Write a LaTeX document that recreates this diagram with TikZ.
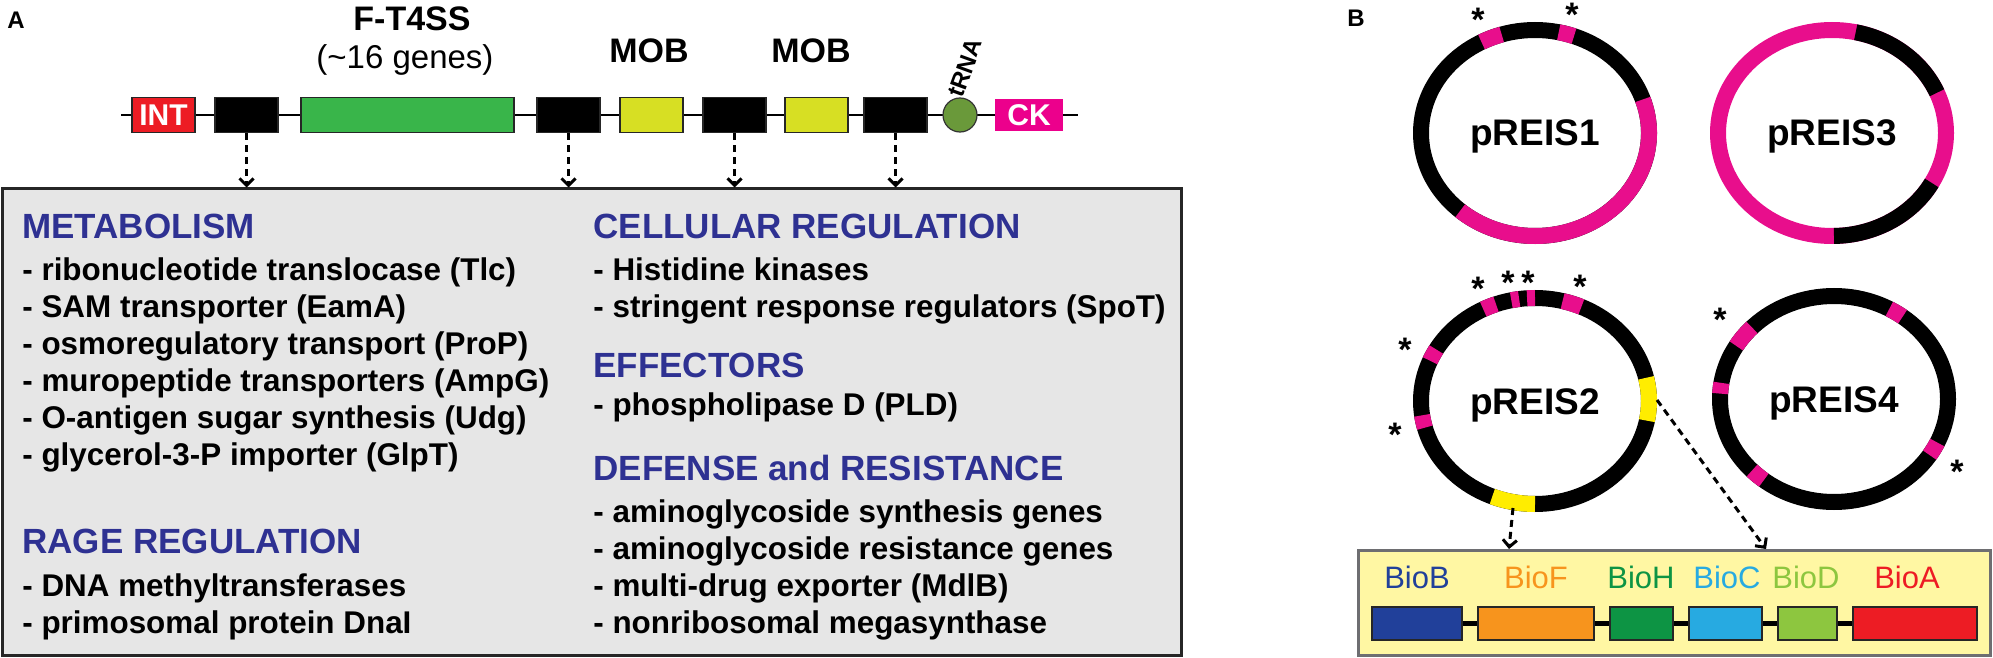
\documentclass[tikz,border=0pt]{standalone}
\usepackage{fontspec}
\setmainfont{Liberation Sans}
\usetikzlibrary{arrows.meta}

\definecolor{headblue}{RGB}{46,49,146}
\definecolor{intred}{RGB}{237,28,36}
\definecolor{tssgreen}{RGB}{57,181,74}
\definecolor{mobyellow}{RGB}{215,223,35}
\definecolor{trnagreen}{RGB}{106,153,58}
\definecolor{ckpink}{RGB}{236,0,140}
\definecolor{boxgray}{RGB}{230,230,230}
\definecolor{ringpink}{RGB}{232,14,140}
\definecolor{ringyellow}{RGB}{255,237,0}
\definecolor{biofill}{RGB}{255,247,163}
\definecolor{bioframe}{RGB}{110,110,113}
\definecolor{colBioB}{RGB}{33,64,154}
\definecolor{colBioF}{RGB}{247,148,29}
\definecolor{colBioH}{RGB}{13,148,68}
\definecolor{colBioC}{RGB}{39,170,225}
\definecolor{colBioD}{RGB}{141,198,63}
\definecolor{colBioA}{RGB}{237,28,36}

% one coloured stretch of a plasmid ring
\newcommand{\ringarc}[4]{\draw[ring,#2] (#1) ++(#3:114 and 103) arc[start angle=#3, end angle=#4, x radius=114, y radius=103];}

\begin{document}
\begin{tikzpicture}[x=0.5pt, y=-0.5pt,
  genebox/.style={draw=black!85, line width=0.6pt, minimum width=31.5pt, minimum height=17.5pt, inner sep=0pt, text=white, font=\bfseries\fontsize{15}{15}\selectfont},
  toplabel/.style={anchor=base, inner sep=0pt, font=\bfseries\fontsize{17}{17}\selectfont},
  funcbox/.style={draw=black!85, line width=1.5pt, fill=boxgray, minimum width=589.5pt, minimum height=233pt},
  catlabel/.style={anchor=base west, inner sep=0pt, text=headblue, font=\bfseries\fontsize{17.5}{17.5}\selectfont},
  genelist/.style={anchor=base west, inner sep=0pt, font=\bfseries\fontsize{15.7}{15.7}\selectfont},
  linkarrow/.style={line width=1.5pt, dash pattern=on 3.5pt off 2.5pt, -{Straight Barb[length=3.5pt,width=7pt]}},
  ring/.style={line width=8pt},
  plasmidlabel/.style={anchor=base, inner sep=0pt, font=\bfseries\fontsize{18.5}{18.5}\selectfont},
  starlbl/.style={inner sep=0pt, yshift=-3.5pt, font=\bfseries\fontsize{17}{17}\selectfont},
  biobox/.style={draw=bioframe, line width=1.5pt, fill=biofill, minimum width=316pt, minimum height=52.5pt},
  biogene/.style={draw=black!85, line width=0.8pt, minimum height=16.5pt, inner sep=0pt},
  biolabel/.style={anchor=base, inner sep=0pt, font=\fontsize{15.5}{15.5}\selectfont},
  biolink/.style={line width=2.5pt}
]
\useasboundingbox (0,0) rectangle (1993,658);

% Panel letters
\node[anchor=base west, inner sep=0pt, font=\bfseries\fontsize{12}{12}\selectfont] (panelA) at (7,29) {A};
\node[anchor=base west, inner sep=0pt, font=\bfseries\fontsize{12}{12}\selectfont] (panelB) at (1347,27) {B};

% Island backbone
\coordinate (bbstart) at (121,115);
\coordinate (bbend) at (1078,115);
\draw[line width=1pt] (bbstart) -- (bbend);

% Genes of the island
\node[genebox, fill=intred] (int) at (163.5,115) {INT};
\node[genebox, fill=black] (hyp1) at (246.5,115) {};
\node[genebox, fill=tssgreen, minimum width=106.5pt] (ft4ss) at (407.5,115) {};
\node[genebox, fill=black] (hyp2) at (568.5,115) {};
\node[genebox, fill=mobyellow] (mob1) at (651.5,115) {};
\node[genebox, fill=black] (hyp3) at (734.5,115) {};
\node[genebox, fill=mobyellow] (mob2) at (816.5,115) {};
\node[genebox, fill=black] (hyp4) at (895.5,115) {};
\node[circle, draw=black!80, line width=0.6pt, fill=trnagreen, minimum size=17pt, inner sep=0pt] (trna) at (960,115) {};
\node[genebox, draw=none, fill=ckpink, minimum width=34pt, minimum height=16pt] (ck) at (1029,115) {CK};

% Labels above the genes
\node[toplabel] (ft4sslab) at (412,31) {F-T4SS};
\node[anchor=base, inner sep=0pt, font=\fontsize{16.5}{16.5}\selectfont] (ft4sscount) at (405,69) {(\textasciitilde16 genes)};
\node[toplabel] (mob1lab) at (649,63) {MOB};
\node[toplabel] (mob2lab) at (811,63) {MOB};
\node[inner sep=0pt, rotate=70, font=\bfseries\fontsize{12}{12}\selectfont] (trnalab) at (965,68) {tRNA};

% Box of gene functions
\node[funcbox] (funcbox) at (591.5,422) {};
\draw[linkarrow] (hyp1.south) -- (hyp1.south |- funcbox.north);
\draw[linkarrow] (hyp2.south) -- (hyp2.south |- funcbox.north);
\draw[linkarrow] (hyp3.south) -- (hyp3.south |- funcbox.north);
\draw[linkarrow] (hyp4.south) -- (hyp4.south |- funcbox.north);

% Left column
\node[catlabel] (metab) at (22,238) {METABOLISM};
\node[genelist] (metab1) at (22,280) {- ribonucleotide translocase (Tlc)};
\node[genelist] (metab2) at (22,317) {- SAM transporter (EamA)};
\node[genelist] (metab3) at (22,354) {- osmoregulatory transport (ProP)};
\node[genelist] (metab4) at (22,391) {- muropeptide transporters (AmpG)};
\node[genelist] (metab5) at (22,428) {- O-antigen sugar synthesis (Udg)};
\node[genelist] (metab6) at (22,465) {- glycerol-3-P importer (GlpT)};
\node[catlabel] (rage) at (22,553) {RAGE REGULATION};
\node[genelist] (rage1) at (22,596) {- DNA methyltransferases};
\node[genelist] (rage2) at (22,633) {- primosomal protein DnaI};

% Right column
\node[catlabel] (cellreg) at (593,238) {CELLULAR REGULATION};
\node[genelist] (cellreg1) at (593,280) {- Histidine kinases};
\node[genelist] (cellreg2) at (593,317) {- stringent response regulators (SpoT)};
\node[catlabel] (effect) at (593,377) {EFFECTORS};
\node[genelist] (effect1) at (593,415) {- phospholipase D (PLD)};
\node[catlabel] (defense) at (593,480) {DEFENSE and RESISTANCE};
\node[genelist] (defense1) at (593,522) {- aminoglycoside synthesis genes};
\node[genelist] (defense2) at (593,559) {- aminoglycoside resistance genes};
\node[genelist] (defense3) at (593,596) {- multi-drug exporter (MdlB)};
\node[genelist] (defense4) at (593,633) {- nonribosomal megasynthase};

% Plasmid centres
\coordinate (p1) at (1535,133);
\coordinate (p2) at (1535,401);
\coordinate (p3) at (1832,133);
\coordinate (p4) at (1834,399);

% pREIS1
\draw[ring] (p1) ellipse [x radius=114, y radius=103];
\ringarc{p1}{ringpink}{242}{253}
\ringarc{p1}{ringpink}{282}{290}
\ringarc{p1}{ringpink}{-19}{131}
\node[plasmidlabel] (p1lab) at (1535,146) {pREIS1};
\node[starlbl] (p1star1) at (1478,13) {*};
\node[starlbl] (p1star2) at (1572,8) {*};

% pREIS3
\draw[ring, ringpink] (p3) ellipse [x radius=114, y radius=103];
\ringarc{p3}{black}{282}{337}
\ringarc{p3}{black}{29}{89}
\node[plasmidlabel] (p3lab) at (1832,146) {pREIS3};

% pREIS2
\draw[ring] (p2) ellipse [x radius=114, y radius=103];
\ringarc{p2}{ringpink}{243}{250}
\ringarc{p2}{ringpink}{258}{262}
\ringarc{p2}{ringpink}{266}{270}
\ringarc{p2}{ringpink}{284}{294}
\ringarc{p2}{ringpink}{203}{210}
\ringarc{p2}{ringpink}{165}{172}
\ringarc{p2}{ringyellow}{90}{112}
\ringarc{p2}{ringyellow}{-13}{11}
\node[plasmidlabel] (p2lab) at (1535,414) {pREIS2};
\node[starlbl] (p2star1) at (1478,282) {*};
\node[starlbl] (p2star2) at (1508,276) {*};
\node[starlbl] (p2star3) at (1528,276) {*};
\node[starlbl] (p2star4) at (1580,280) {*};
\node[starlbl] (p2star5) at (1405,343) {*};
\node[starlbl] (p2star6) at (1395,428) {*};

% pREIS4
\draw[ring] (p4) ellipse [x radius=114, y radius=103];
\ringarc{p4}{ringpink}{211}{224}
\ringarc{p4}{ringpink}{183}{189}
\ringarc{p4}{ringpink}{299}{307}
\ringarc{p4}{ringpink}{25}{33}
\ringarc{p4}{ringpink}{128}{136}
\node[plasmidlabel] (p4lab) at (1834,412) {pREIS4};
\node[starlbl] (p4star1) at (1720,313) {*};
\node[starlbl] (p4star2) at (1957,465) {*};

% Biotin operon
\node[biobox] (biobox) at (1674,602.5) {};
\node[biogene, fill=colBioB, minimum width=45pt] (bioB) at (1417,623.5) {};
\node[biogene, fill=colBioF, minimum width=58pt] (bioF) at (1536,623.5) {};
\node[biogene, fill=colBioH, minimum width=31.5pt] (bioH) at (1641.5,623.5) {};
\node[biogene, fill=colBioC, minimum width=36.5pt] (bioC) at (1725.5,623.5) {};
\node[biogene, fill=colBioD, minimum width=29.5pt] (bioD) at (1807.5,623.5) {};
\node[biogene, fill=colBioA, minimum width=62pt] (bioA) at (1915,623.5) {};
\draw[biolink] (bioB) -- (bioF) (bioF) -- (bioH) (bioH) -- (bioC) (bioC) -- (bioD) (bioD) -- (bioA);
\node[biolabel, text=colBioB] (bioBlab) at (1417,588) {BioB};
\node[biolabel, text=colBioF] (bioFlab) at (1536,588) {BioF};
\node[biolabel, text=colBioH] (bioHlab) at (1641,588) {BioH};
\node[biolabel, text=colBioC] (bioClab) at (1727,588) {BioC};
\node[biolabel, text=colBioD] (bioDlab) at (1806,588) {BioD};
\node[biolabel, text=colBioA] (bioAlab) at (1907,588) {BioA};

% Arrows from the yellow stretches of pREIS2
\coordinate (p2bottom) at (1513,508);
\coordinate (p2right) at (1657,400);
\coordinate (bioin1) at (1509,549);
\coordinate (bioin2) at (1766,549);
\draw[linkarrow] (p2bottom) -- (bioin1);
\draw[linkarrow] (p2right) -- (bioin2);
\end{tikzpicture}
\end{document}
